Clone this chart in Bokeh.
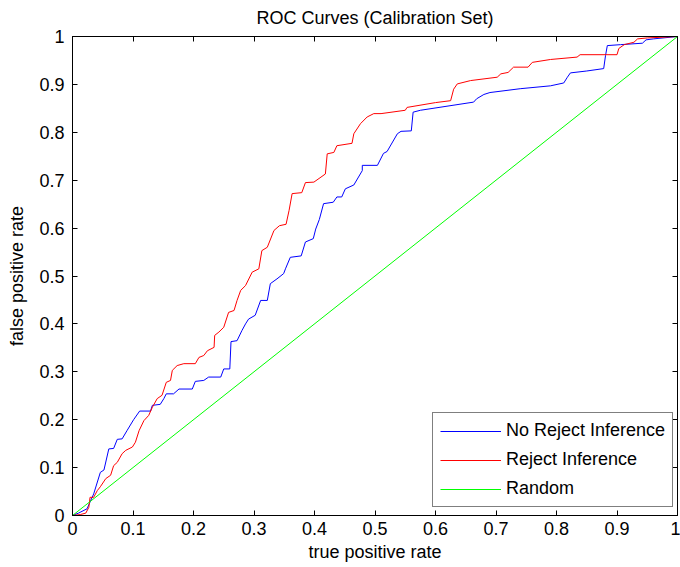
from bokeh.plotting import figure
from bokeh.models import LinearAxis, FixedTicker, Legend, LegendItem
from bokeh.embed import file_html
from bokeh.resources import INLINE

# --- data ---
no_reject_x = [0, 0.01, 0.024, 0.035, 0.046, 0.052, 0.06, 0.068, 0.074, 0.082, 0.090, 0.101, 0.111,
               0.129, 0.132, 0.145, 0.151, 0.155, 0.167, 0.176, 0.198, 0.203, 0.217, 0.225, 0.245,
               0.250, 0.260, 0.262, 0.272, 0.280, 0.286, 0.291, 0.302, 0.311, 0.322, 0.327, 0.338,
               0.349, 0.352, 0.36, 0.378, 0.385, 0.398, 0.402, 0.408, 0.415, 0.431, 0.437, 0.445,
               0.451, 0.465, 0.479, 0.479, 0.504, 0.514, 0.52, 0.537, 0.543, 0.560, 0.563, 0.575,
               0.663, 0.668, 0.680, 0.69, 0.740, 0.79, 0.812, 0.818, 0.823, 0.85, 0.878, 0.881,
               0.884, 0.906, 0.942, 0.948, 0.96, 1.0]
no_reject_y = [0, 0.005, 0.014, 0.045, 0.09, 0.095, 0.139, 0.14, 0.159, 0.16, 0.177, 0.2, 0.218,
               0.218, 0.23, 0.232, 0.244, 0.254, 0.254, 0.264, 0.264, 0.28, 0.282, 0.289, 0.289,
               0.306, 0.306, 0.363, 0.365, 0.386, 0.40, 0.41, 0.418, 0.449, 0.449, 0.484, 0.494,
               0.505, 0.515, 0.539, 0.542, 0.571, 0.578, 0.598, 0.618, 0.651, 0.654, 0.665, 0.665,
               0.682, 0.69, 0.72, 0.731, 0.731, 0.756, 0.76, 0.797, 0.802, 0.803, 0.842, 0.846,
               0.863, 0.87, 0.879, 0.883, 0.891, 0.897, 0.903, 0.915, 0.924, 0.928, 0.933, 0.96,
               0.981, 0.983, 0.986, 0.993, 0.995, 1.0]

reject_x = [0, 0.013, 0.022, 0.027, 0.029, 0.035, 0.041, 0.046, 0.055, 0.063, 0.068, 0.074, 0.082,
            0.088, 0.099, 0.104, 0.110, 0.118, 0.126, 0.132, 0.140, 0.148, 0.155, 0.162, 0.165,
            0.173, 0.184, 0.203, 0.209, 0.217, 0.223, 0.234, 0.235, 0.242, 0.250, 0.258, 0.267,
            0.272, 0.278, 0.286, 0.297, 0.308, 0.313, 0.322, 0.333, 0.342, 0.353, 0.358, 0.363,
            0.379, 0.385, 0.399, 0.418, 0.421, 0.432, 0.437, 0.462, 0.465, 0.476, 0.487, 0.498,
            0.51, 0.55, 0.553, 0.6, 0.625, 0.63, 0.636, 0.658, 0.702, 0.708, 0.72, 0.729, 0.753,
            0.760, 0.79, 0.834, 0.839, 0.900, 0.903, 0.912, 0.928, 0.934, 0.95, 1.0]
reject_y = [0, 0.002, 0.005, 0.017, 0.038, 0.038, 0.052, 0.06, 0.077, 0.084, 0.104, 0.111, 0.129,
            0.136, 0.143, 0.153, 0.177, 0.198, 0.209, 0.226, 0.244, 0.251, 0.278, 0.282, 0.303,
            0.313, 0.317, 0.317, 0.330, 0.334, 0.344, 0.351, 0.376, 0.383, 0.393, 0.424, 0.428,
            0.449, 0.47, 0.48, 0.508, 0.515, 0.553, 0.560, 0.595, 0.605, 0.608, 0.637, 0.672,
            0.674, 0.695, 0.696, 0.713, 0.755, 0.758, 0.772, 0.777, 0.797, 0.818, 0.832, 0.839,
            0.839, 0.846, 0.852, 0.862, 0.866, 0.89, 0.901, 0.908, 0.915, 0.922, 0.925, 0.936,
            0.936, 0.946, 0.952, 0.957, 0.962, 0.962, 0.975, 0.983, 0.988, 0.995, 0.997, 1.0]

random_x = [0, 1]
random_y = [0, 1]

tick_values = [0, 0.1, 0.2, 0.3, 0.4, 0.5, 0.6, 0.7, 0.8, 0.9, 1]
tick_labels = ["0", "0.1", "0.2", "0.3", "0.4", "0.5", "0.6", "0.7", "0.8", "0.9", "1"]

series_names = ["No Reject Inference", "Reject Inference", "Random"]
series_colors = ["#0000ff", "#ff0000", "#00ff00"]

FONT = "Liberation Sans"
FS = "18px"

p = figure(width=680, height=567, output_backend="svg", toolbar_location=None,
           x_range=(0, 1), y_range=(0, 1),
           title="ROC Curves (Calibration Set)",
           x_axis_label="true positive rate", y_axis_label="false positive rate",
           min_border_left=72, min_border_right=3, min_border_top=0, min_border_bottom=52)

p.title.align = "center"
p.title.vertical_align = "top"
p.title.text_font = FONT
p.title.text_font_size = FS
p.title.text_font_style = "normal"
p.title.text_color = "#000000"
p.title.standoff = 14

p.xgrid.visible = False
p.ygrid.visible = False
p.outline_line_color = "#000000"
p.outline_line_alpha = 1.0
p.background_fill_color = "#ffffff"
p.border_fill_color = "#ffffff"

labels = {v: s for v, s in zip(tick_values, tick_labels)}
for ax in (p.xaxis[0], p.yaxis[0]):
    ax.ticker = FixedTicker(ticks=tick_values)
    ax.major_label_overrides = labels
    ax.major_tick_in = 5
    ax.major_tick_out = 0
    ax.minor_tick_in = 0
    ax.minor_tick_out = 0
    ax.axis_line_color = "#000000"
    ax.major_tick_line_color = "#000000"
    ax.major_label_text_font = FONT
    ax.major_label_text_font_size = FS
    ax.major_label_text_color = "#000000"
    ax.axis_label_text_font = FONT
    ax.axis_label_text_font_size = FS
    ax.axis_label_text_font_style = "normal"
    ax.axis_label_text_color = "#000000"

p.xaxis[0].major_label_standoff = 6
p.xaxis[0].axis_label_standoff = 4
p.yaxis[0].major_label_standoff = 8
p.yaxis[0].axis_label_standoff = 9

for loc in ("above", "right"):
    ax = LinearAxis(ticker=FixedTicker(ticks=tick_values))
    ax.major_tick_in = 5
    ax.major_tick_out = 0
    ax.minor_tick_in = 0
    ax.minor_tick_out = 0
    ax.major_label_text_font_size = "1px"
    ax.major_label_text_color = None
    ax.major_label_standoff = 0
    ax.axis_line_color = "#000000"
    p.add_layout(ax, loc)

r1 = p.line(no_reject_x, no_reject_y, line_color=series_colors[0], line_width=1)
r2 = p.line(reject_x, reject_y, line_color=series_colors[1], line_width=1)
r3 = p.line(random_x, random_y, line_color=series_colors[2], line_width=1)

legend = Legend(items=[LegendItem(label=series_names[0], renderers=[r1]),
                       LegendItem(label=series_names[1], renderers=[r2]),
                       LegendItem(label=series_names[2], renderers=[r3])],
                location="bottom_right")
legend.margin = 0
legend.location = (360, 8)
legend.padding = 7
legend.spacing = 8
legend.glyph_width = 61
legend.glyph_height = 18
legend.label_height = 18
legend.label_standoff = 5
legend.label_text_font = FONT
legend.label_text_font_size = FS
legend.label_text_color = "#000000"
legend.border_line_color = "#000000"
legend.border_line_width = 1
legend.background_fill_color = "#ffffff"
legend.background_fill_alpha = 1.0
p.add_layout(legend, "center")

open("out.html", "w").write(file_html(p, INLINE))
